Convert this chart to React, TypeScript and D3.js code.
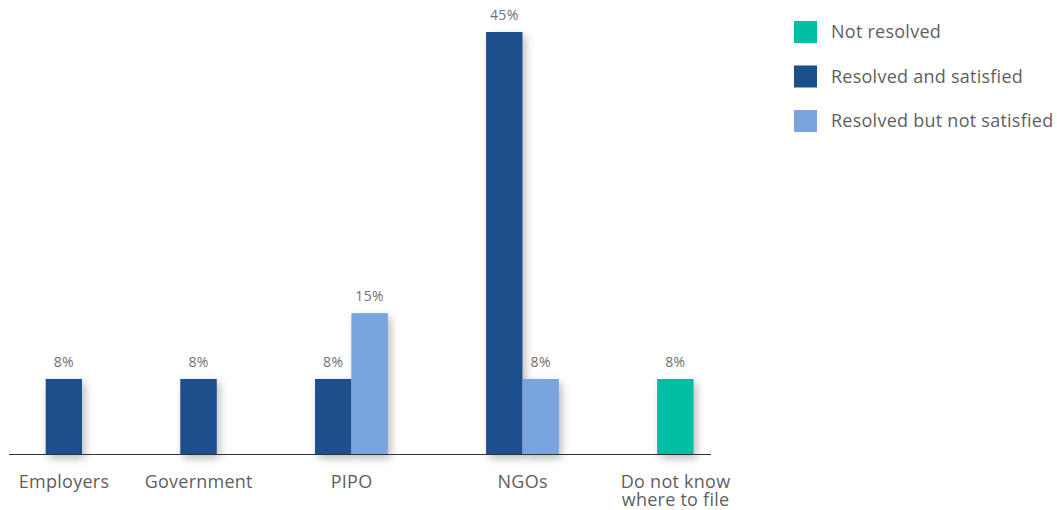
import React from "react";
import * as d3 from "d3";

const categories: string[][] = [["Employers"], ["Government"], ["PIPO"], ["NGOs"], ["Do not know", "where to file"]];
const seriesNames = ["Not resolved", "Resolved and satisfied", "Resolved but not satisfied"];
const seriesColors = ["#00BFA5", "#1D4F8D", "#7AA4DE"];
const notResolved: (number | null)[] = [null, null, null, null, 8];
const resolvedSatisfied: (number | null)[] = [8, 8, 8, 45, null];
const resolvedNotSatisfied: (number | null)[] = [null, null, 15, 8, null];
const seriesValues = [notResolved, resolvedSatisfied, resolvedNotSatisfied];

const W = 1057, H = 510;
const FONT = "'Open Sans', Lato, sans-serif";

export default function App() {
  const gapUnits = 2.7;
  const counts = categories.map((_, i) => seriesValues.filter(s => s[i] != null).length);
  const starts: number[] = [];
  let acc = 0;
  counts.forEach(n => { starts.push(acc); acc += n + gapUnits; });
  const x = d3.scaleLinear().domain([0, acc]).range([-3.3, -3.3 + acc * 36.4]);
  const y = d3.scaleLinear().domain([0, 45]).range([454, 32]);
  const barW = x(1) - x(0) - 0.4;

  const bars: { x: number; y: number; w: number; h: number; color: string; v: number }[] = [];
  const centers: number[] = [];
  categories.forEach((_, i) => {
    const n = counts[i];
    const c = starts[i] + (n + gapUnits) / 2;
    centers.push(x(c));
    let k = 0;
    seriesValues.forEach((s, si) => {
      const v = s[i];
      if (v == null) return;
      const u0 = c - n / 2 + k;
      k++;
      bars.push({ x: x(u0), y: y(v), w: barW, h: y(0) - y(v), color: seriesColors[si], v });
    });
  });

  return (
    <svg width={W} height={H} style={{ position: "absolute", left: 0, top: 0 }}>
      <defs>
        <filter id="sh" x="-50%" y="-20%" width="200%" height="150%">
          <feDropShadow dx="3" dy="4" stdDeviation="4" floodColor="#000" floodOpacity="0.28" />
        </filter>
      </defs>
      <rect width={W} height={H} fill="#fff" />
      {bars.map((b, i) => (
        <rect key={"s" + i} x={b.x} y={b.y} width={b.w} height={b.h} fill={b.color} filter="url(#sh)" />
      ))}
      {bars.map((b, i) => (
        <rect key={"b" + i} x={b.x} y={b.y} width={b.w} height={b.h} fill={b.color} />
      ))}
      {bars.map((b, i) => (
        <text key={"t" + i} x={b.x + b.w / 2} y={b.y - 12} textAnchor="middle" fontSize={14} letterSpacing={0.3} fill="#707070" fontFamily={FONT}>
          {b.v}%
        </text>
      ))}
      <line x1={9} x2={711} y1={y(0) + 0.5} y2={y(0) + 0.5} stroke="#333" strokeWidth={1} />
      {categories.map((lines, i) => (
        <text key={"c" + i} x={centers[i]} y={488} textAnchor="middle" fontSize={18} letterSpacing={0.25} fill="#5f5f5f" fontFamily={FONT}>
          {lines.map((l, j) => (
            <tspan key={j} x={centers[i]} dy={j === 0 ? 0 : 18}>{l}</tspan>
          ))}
        </text>
      ))}
      {seriesNames.map((name, i) => (
        <g key={"l" + i} transform={`translate(794, ${21 + i * 44.5})`}>
          <rect width={23} height={22} fill={seriesColors[i]} />
          <text x={37} y={17} fontSize={18} letterSpacing={0.25} fill="#5f5f5f" fontFamily={FONT}>{name}</text>
        </g>
      ))}
    </svg>
  );
}
